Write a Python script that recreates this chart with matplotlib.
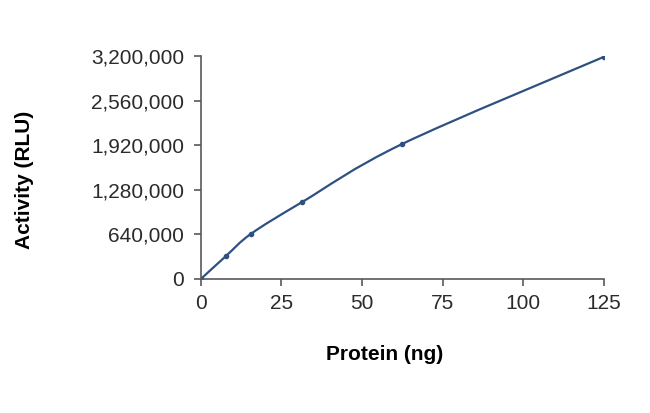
import matplotlib
matplotlib.use('Agg')
import matplotlib.pyplot as plt
from matplotlib.path import Path
from matplotlib.patches import PathPatch
from matplotlib.ticker import FuncFormatter

# values
protein_ng = [0, 7.8, 15.6, 31.25, 62.5, 125]
activity_rlu = [0, 330000, 650000, 1100000, 1940000, 3190000]
x_ticks = [0, 25, 50, 75, 100, 125]
y_ticks = [0, 640000, 1280000, 1920000, 2560000, 3200000]

line_color = '#2e5182'
axis_color = '#595959'
text_color = '#2b2b2b'

plt.rcParams['font.family'] = ['Liberation Sans', 'DejaVu Sans']

fig = plt.figure(figsize=(6.5, 4.13), dpi=100)
ax = fig.add_axes([0.309, 0.3245, 0.62, 0.5395])

# smoothed line through the points (Excel style bezier segments)
verts = [(protein_ng[0], activity_rlu[0])]
codes = [Path.MOVETO]
n = len(protein_ng)
for i in range(n - 1):
    p0 = (protein_ng[max(i - 1, 0)], activity_rlu[max(i - 1, 0)])
    p1 = (protein_ng[i], activity_rlu[i])
    p2 = (protein_ng[i + 1], activity_rlu[i + 1])
    p3 = (protein_ng[min(i + 2, n - 1)], activity_rlu[min(i + 2, n - 1)])
    c1 = (p1[0] + (p2[0] - p0[0]) / 6, p1[1] + (p2[1] - p0[1]) / 6)
    c2 = (p2[0] - (p3[0] - p1[0]) / 6, p2[1] - (p3[1] - p1[1]) / 6)
    verts += [c1, c2, p2]
    codes += [Path.CURVE4] * 3
ax.add_patch(PathPatch(Path(verts, codes), facecolor='none', edgecolor=line_color, lw=1.6))
ax.plot(protein_ng, activity_rlu, 'o', color=line_color, markersize=3)

ax.set_xlim(0, 125)
ax.set_ylim(0, 3200000)
ax.set_xticks(x_ticks)
ax.set_yticks(y_ticks)
ax.yaxis.set_major_formatter(FuncFormatter(lambda v, p: f'{int(v):,}'))

for side in ['top', 'right']:
    ax.spines[side].set_visible(False)
for side in ['left', 'bottom']:
    ax.spines[side].set_color(axis_color)
    ax.spines[side].set_linewidth(1.2)
ax.tick_params(direction='out', length=5, width=1.2, color=axis_color,
               labelsize=15, labelcolor=text_color)
ax.tick_params(axis='y', pad=7)
ax.tick_params(axis='x', pad=6)

fig.text(385 / 650, 1 - 355 / 413, 'Protein (ng)', fontsize=15, fontweight='bold',
         color='black', ha='center', va='center')
fig.text(24 / 650, 1 - 180 / 413, 'Activity (RLU)', rotation=90, fontsize=15,
         fontweight='bold', va='center', ha='center')

fig.savefig('out.png', dpi=100)
